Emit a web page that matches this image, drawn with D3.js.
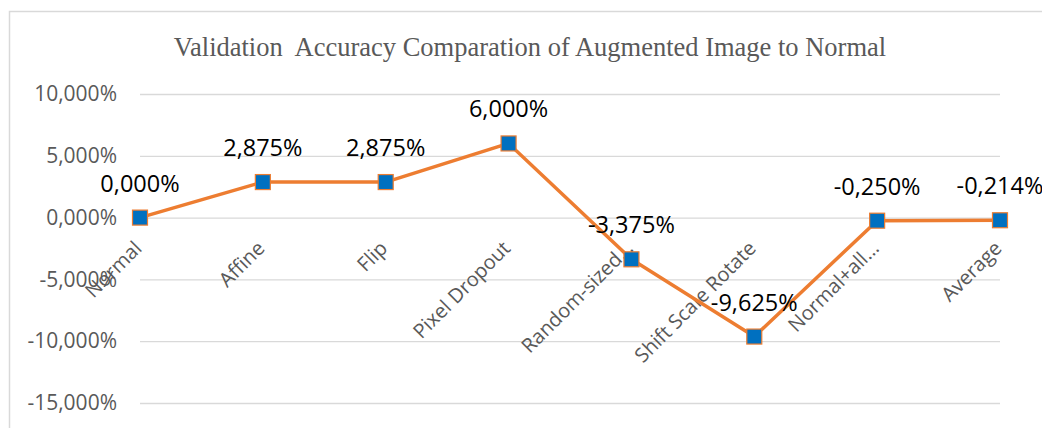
<!DOCTYPE html>
<html>
<head>
<meta charset="utf-8">
<title>Validation Accuracy</title>
<script src="https://d3js.org/d3.v7.min.js"></script>
<style>
  body { margin: 0; background: #fff; }
  .tick text { font-family: "Open Sans", sans-serif; fill: #595959; }
</style>
</head>
<body>
<div id="chart"></div>
<script>
"use strict"

var categorias = ["Normal", "Affine", "Flip", "Pixel Dropout", "Random-sized\u2026",
                  "Shift Scale Rotate", "Normal+all\u2026", "Average"];
var valores = [0, 0.02875, 0.02875, 0.06, -0.03375, -0.09625, -0.0025, -0.00214];
var ticksY = [0.10, 0.05, 0, -0.05, -0.10, -0.15];

var W = 1042, H = 428;

var loc = d3.formatLocale({decimal: ",", thousands: ".", grouping: [3], currency: ["", ""], minus: "-"});
var fmt = loc.format(".3%");

var svg = d3.select("#chart").append("svg")
  .attr("width", W).attr("height", H);

// borda do grafico
svg.append("path")
  .attr("d", "M9.5," + H + "V11.5H" + W)
  .attr("fill", "none").attr("stroke", "#d9d9d9").attr("stroke-width", 1.5);

svg.append("text")
  .attr("x", 530).attr("y", 56)
  .attr("text-anchor", "middle")
  .attr("font-family", "Liberation Serif, serif")
  .attr("font-size", 26.5)
  .attr("fill", "#595959")
  .attr("xml:space", "preserve")
  .text("Validation  Accuracy Comparation of Augmented Image to Normal");

var x = d3.scalePoint().domain(categorias).range([140, 1000]).padding(0);
var y = d3.scaleLinear().domain([-0.15, 0.10]).range([403, 94]);

// grade + eixo y
var gy = svg.append("g")
  .attr("transform", "translate(140,0)")
  .call(d3.axisLeft(y).tickValues(ticksY).tickFormat(fmt).tickSize(-860).tickPadding(23));
gy.select(".domain").remove();
gy.selectAll(".tick line").attr("stroke", "#d9d9d9").attr("stroke-width", 1.3);
gy.selectAll(".tick text").attr("font-size", 21);

// rotulos das categorias
svg.append("g").selectAll("text")
  .data(categorias)
  .enter().append("text")
  .attr("transform", d => "translate(" + (x(d) + 3) + "," + (y(0) + 32) + ") rotate(-45)")
  .attr("text-anchor", "end")
  .attr("font-family", "Open Sans, sans-serif")
  .attr("font-size", 20)
  .attr("fill", "#595959")
  .text(d => d);

var linha = d3.line().x((d, i) => x(categorias[i])).y(d => y(d));

svg.append("path")
  .datum(valores)
  .attr("d", linha)
  .attr("fill", "none")
  .attr("stroke", "#ED7D31")
  .attr("stroke-width", 3.5)
  .attr("stroke-linejoin", "round");

svg.append("g").selectAll("rect")
  .data(valores)
  .enter().append("rect")
  .attr("x", (d, i) => x(categorias[i]) - 7.5)
  .attr("y", d => y(d) - 7.5)
  .attr("width", 15).attr("height", 15)
  .attr("fill", "#0070C0")
  .attr("stroke", "#ED7D31")
  .attr("stroke-width", 1.2);

svg.append("g").selectAll("text")
  .data(valores)
  .enter().append("text")
  .attr("x", (d, i) => x(categorias[i]))
  .attr("y", d => y(d) - 26)
  .attr("text-anchor", "middle")
  .attr("font-family", "Open Sans, sans-serif")
  .attr("font-size", 23.5)
  .attr("fill", "#000")
  .text(d => fmt(d));
</script>
</body>
</html>
